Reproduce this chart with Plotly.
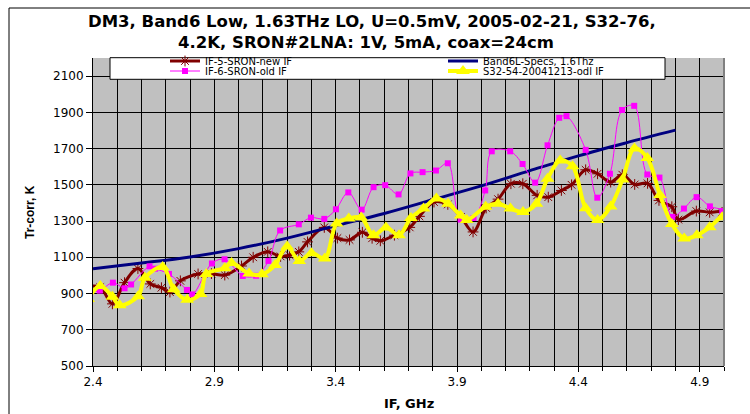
import plotly.graph_objects as go

# ---------------- data ----------------
if5_x = [2.38, 2.43, 2.48, 2.53, 2.585, 2.636, 2.682, 2.717, 2.76, 2.833, 2.888, 2.943,
         3.012, 3.06, 3.12, 3.173, 3.21, 3.248, 3.284, 3.353, 3.407, 3.457, 3.51, 3.55,
         3.584, 3.642, 3.705, 3.745, 3.805, 3.862, 3.916, 3.966, 4.02, 4.069, 4.122, 4.171,
         4.23, 4.276, 4.33, 4.372, 4.43, 4.479, 4.533, 4.581, 4.632, 4.685, 4.732, 4.785,
         4.812, 4.886, 4.941, 4.992, 5.05]
if5_y = [940, 935, 843, 960, 1038, 953, 932, 908, 970, 1008, 1010, 1002,
         1052, 1100, 1130, 1105, 1112, 1130, 1185, 1265, 1206, 1196, 1238, 1205,
         1191, 1222, 1265, 1326, 1405, 1392, 1323, 1240, 1372, 1421, 1506, 1506,
         1442, 1432, 1469, 1500, 1583, 1561, 1515, 1556, 1502, 1508, 1414, 1379,
         1308, 1355, 1348, 1348, 1220]

if6_x = [2.38, 2.428, 2.482, 2.53, 2.557, 2.633, 2.656, 2.713, 2.787, 2.809, 2.89, 2.942,
         3.017, 3.072, 3.123, 3.171, 3.248, 3.298, 3.353, 3.401, 3.452, 3.507, 3.556, 3.604,
         3.659, 3.708, 3.758, 3.813, 3.862, 3.915, 3.968, 4.016, 4.043, 4.119, 4.17, 4.222,
         4.273, 4.321, 4.351, 4.43, 4.478, 4.53, 4.58, 4.63, 4.684, 4.734, 4.787, 4.835,
         4.887, 4.942, 4.993, 5.05]
if6_y = [905, 916, 960, 929, 950, 1050, 1037, 1008, 920, 895, 1066, 1089,
         997, 998, 1080, 1248, 1282, 1319, 1312, 1365, 1458, 1363, 1487, 1498,
         1447, 1563, 1570, 1579, 1619, 1308, 1317, 1469, 1685, 1685, 1615, 1512,
         1718, 1870, 1879, 1693, 1429, 1561, 1913, 1936, 1557, 1540, 1323, 1369,
         1432, 1381, 1355, 1100]

spec_x = [2.4, 2.6, 2.8, 3.0, 3.2, 3.4, 3.6, 3.8, 4.0, 4.2, 4.4, 4.6, 4.8]
spec_y = [1037, 1068, 1102, 1148, 1206, 1274, 1342, 1418, 1494, 1578, 1660, 1733, 1802]

s32_x = [2.38, 2.43, 2.48, 2.51, 2.586, 2.614, 2.687, 2.733, 2.788, 2.843, 2.867, 2.943,
         2.971, 3.043, 3.096, 3.15, 3.2, 3.25, 3.3, 3.355, 3.404, 3.454, 3.505, 3.556,
         3.607, 3.661, 3.71, 3.762, 3.815, 3.863, 3.915, 3.94, 4.018, 4.069, 4.12, 4.172,
         4.227, 4.273, 4.325, 4.376, 4.43, 4.479, 4.533, 4.582, 4.631, 4.684, 4.736, 4.785,
         4.836, 4.888, 4.941, 4.992, 5.04]
s32_y = [870, 942, 882, 835, 885, 987, 1046, 924, 865, 898, 1008, 1040,
         1068, 1010, 1006, 1057, 1160, 1080, 1123, 1094, 1287, 1314, 1319, 1222,
         1264, 1222, 1317, 1369, 1424, 1396, 1330, 1306, 1379, 1396, 1369, 1350,
         1396, 1533, 1634, 1603, 1371, 1306, 1381, 1530, 1701, 1648, 1444, 1284,
         1204, 1222, 1266, 1321, 1300]

x_tickvals = [2.4, 2.9, 3.4, 3.9, 4.4, 4.9]
x_ticktext = ["2.4", "2.9", "3.4", "3.9", "4.4", "4.9"]
y_tickvals = [500, 700, 900, 1100, 1300, 1500, 1700, 1900, 2100]
y_ticktext = ["500", "700", "900", "1100", "1300", "1500", "1700", "1900", "2100"]

title_line1 = "DM3, Band6 Low, 1.63THz LO, U=0.5mV, 2005-02-21, S32-76,"
title_line2 = "4.2K, SRON#2LNA: 1V, 5mA, coax=24cm"

# ---------------- layout geometry (pixels) ----------------
W, H = 750, 414
ML, MR, MB = 93, 26, 48
PAPER_TOP = 30          # top of the paper area (margin)
PLOT_TOP = 58           # top of the plot area (y axis domain top)
PLOT_BOTTOM = H - MB
PW = W - ML - MR
PPH = PLOT_BOTTOM - PAPER_TOP


def fx(p):
    return (p - ML) / PW


def fy(p):
    return (PLOT_BOTTOM - p) / PPH


FONT = "DejaVu Sans"

fig = go.Figure()

fig.add_trace(go.Scatter(
    x=if5_x, y=if5_y, name="IF-5-SRON-new IF", mode="lines+markers",
    line=dict(color="#800000", width=3, shape="spline", smoothing=1),
    marker=dict(symbol="asterisk-open", size=9, color="#800000",
                line=dict(color="#800000", width=1)),
    legend="legend"))
fig.add_trace(go.Scatter(
    x=spec_x, y=spec_y, name="Band6L-Specs, 1.6Thz", mode="lines",
    line=dict(color="#000080", width=3, shape="spline", smoothing=1),
    legend="legend"))
fig.add_trace(go.Scatter(
    x=if6_x, y=if6_y, name="IF-6-SRON-old IF", mode="lines+markers",
    line=dict(color="#FF00FF", width=1, shape="spline", smoothing=1),
    marker=dict(symbol="square", size=6, color="#FF00FF"),
    legend="legend2"))
fig.add_trace(go.Scatter(
    x=s32_x, y=s32_y, name="S32-54-20041213-odl IF", mode="lines+markers",
    line=dict(color="#FFFF00", width=4, shape="spline", smoothing=1),
    marker=dict(symbol="triangle-up", size=12, color="#FFFF00"),
    legend="legend2"))

legend_common = dict(xanchor="left", yanchor="top", orientation="h",
                     bgcolor="rgba(0,0,0,0)", borderwidth=0,
                     entrywidth=233, entrywidthmode="pixels", itemwidth=30,
                     font=dict(family=FONT, size=10, color="black"))

fig.update_layout(
    width=W, height=H,
    margin=dict(l=ML, r=MR, t=PAPER_TOP, b=MB, pad=0),
    paper_bgcolor="white", plot_bgcolor="#C0C0C0",
    font=dict(family=FONT, size=12, color="black"),
    showlegend=True,
    legend=dict(x=fx(165), y=fy(46.5), **legend_common),
    legend2=dict(x=fx(165), y=fy(56.5), **legend_common),
    xaxis=dict(range=[2.4, 5.0], tickmode="array", tickvals=x_tickvals, ticktext=x_ticktext,
               ticks="outside", ticklen=5, tickcolor="black", showline=True,
               linecolor="black", linewidth=1, showgrid=True, gridcolor="black",
               gridwidth=1, zeroline=False, tickfont=dict(size=12),
               minor=dict(tickmode="linear", tick0=2.4, dtick=0.1, showgrid=True,
                          gridcolor="black", gridwidth=1, ticks="outside",
                          ticklen=4, tickcolor="black")),
    yaxis=dict(range=[500, 2200], domain=[0, fy(PLOT_TOP)],
               tickmode="array", tickvals=y_tickvals, ticktext=y_ticktext,
               ticks="outside", ticklen=6, tickcolor="black", showline=True,
               linecolor="black", linewidth=1, showgrid=True, gridcolor="black",
               gridwidth=1, zeroline=False, tickfont=dict(size=12)),
    shapes=[
        # chart frame
        dict(type="rect", xref="paper", yref="paper", x0=fx(9), x1=fx(770),
             y0=fy(430), y1=fy(8), line=dict(color="black", width=1),
             fillcolor="rgba(0,0,0,0)", layer="below"),
        # right plot border
        dict(type="line", xref="paper", yref="paper", x0=1, x1=1, y0=0, y1=fy(PLOT_TOP),
             line=dict(color="#808080", width=2), layer="above"),
        # legend box
        dict(type="rect", xref="paper", yref="paper", x0=fx(110), x1=fx(665),
             y0=fy(79.3), y1=fy(57.7), line=dict(color="black", width=1),
             fillcolor="white", layer="above"),
    ],
    annotations=[
        dict(text="<b>" + title_line1 + "</b>", xref="paper", yref="paper",
             x=fx(372), y=fy(21), xanchor="center", yanchor="middle", showarrow=False,
             font=dict(family=FONT, size=16.5, color="black")),
        dict(text="<b>" + title_line2 + "</b>", xref="paper", yref="paper",
             x=fx(366), y=fy(43), xanchor="center", yanchor="middle", showarrow=False,
             font=dict(family=FONT, size=16.5, color="black")),
        dict(text="<b>Tr-corr, K</b>", xref="paper", yref="paper", x=fx(30), y=fy(212),
             xanchor="center", yanchor="middle", textangle=-90, showarrow=False,
             font=dict(family="Liberation Sans", size=12, color="black")),
        dict(text="<b>IF, GHz</b>", xref="paper", yref="paper", x=0.5, y=fy(403),
             xanchor="center", yanchor="middle", showarrow=False,
             font=dict(family=FONT, size=13, color="black")),
    ],
)

fig.write_html("out.html", config={"displayModeBar": False},
               post_script="document.body.style.margin='0';document.body.style.overflow='hidden';")
